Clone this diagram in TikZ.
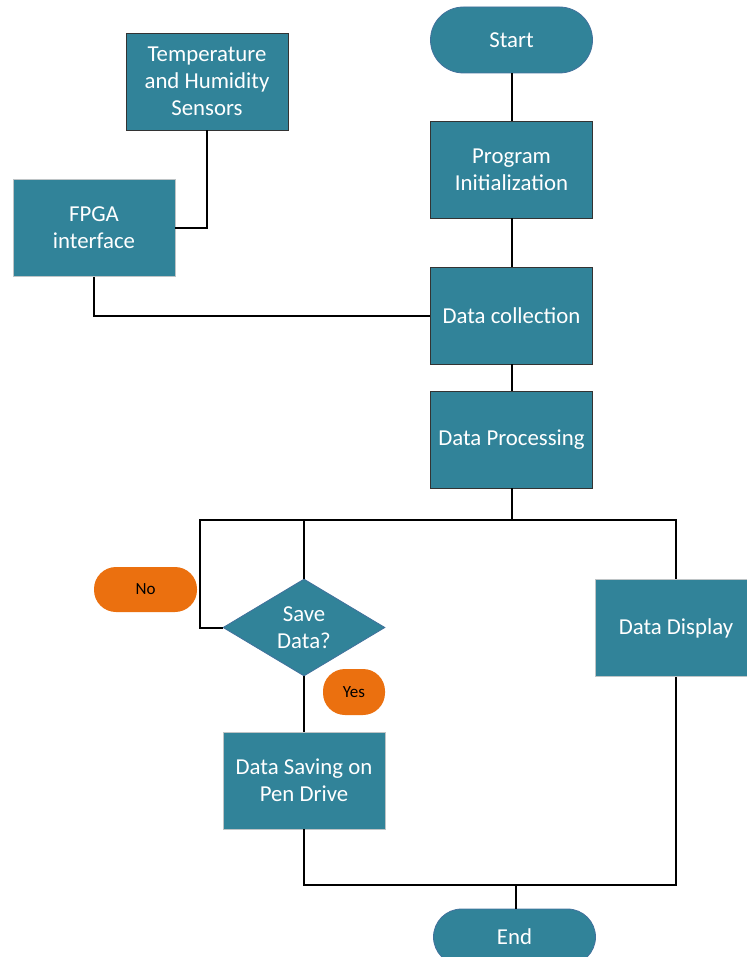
\documentclass[tikz,border=0pt]{standalone}
\usepackage{fontspec}
\setmainfont{Carlito}
\usepackage{tikz}
\usetikzlibrary{positioning,calc,shapes.geometric}
\definecolor{flowteal}{RGB}{49,131,153}
\definecolor{tealedge}{RGB}{65,113,156}
\definecolor{flowornge}{RGB}{235,112,15}
\definecolor{paleedge}{RGB}{190,196,198}
\tikzset{
  procbox/.style={draw=black!80, fill=flowteal, text=white, align=center,
                  minimum width=81pt, minimum height=48.5pt, inner sep=1pt,
                  font=\fontsize{11.4}{13.5}\selectfont},
  palebox/.style={procbox, draw=paleedge},
  termbox/.style={procbox, draw=tealedge, rounded corners=16.5pt, minimum height=33pt},
  askbox/.style={diamond, draw=tealedge, fill=flowteal, text=white, align=center,
                 minimum width=81pt, minimum height=48.5pt, inner sep=0pt, aspect=1.67,
                 font=\fontsize{11.4}{13.5}\selectfont},
  tagbox/.style={fill=flowornge, text=black, align=center, rounded corners=11pt,
                 font=\fontsize{8.5}{10}\selectfont},
  link/.style={draw=black, line width=1pt},
}

\begin{document}
\begin{tikzpicture}[x=0.5pt, y=-0.5pt]
  \useasboundingbox (0,0) rectangle (747,957);
%---------------- main column ----------------
  \node[termbox] (start) at (511.5,40) {Start};
  \node[procbox] (init) at (511.5,169.5) {Program\\ Initialization};
  \node[procbox] (coll) at (511.5,315.5) {Data collection};
  \node[procbox] (proc) at (511.5,439.5) {Data Processing};
%---------------- sensor side ----------------
  \node[procbox] (sens) at (207,81.5) {Temperature\\ and Humidity\\ Sensors};
  \node[palebox] (fpga) at (94,228) {FPGA\\ interface};
%---------------- branches ----------------
  \node[askbox] (save) at (304,627.5) {Save\\ Data?};
  \node[palebox] (pend) at (304,780.5) {Data Saving on\\ Pen Drive};
  \node[palebox] (disp) at (676,628) {Data Display};
  \node[tagbox, minimum width=51.5pt, minimum height=22.5pt] (tagno) at (145.5,589.5) {No};
  \node[tagbox, minimum width=31pt, minimum height=23pt] (tagyes) at (354,692) {Yes};
  \node[termbox, minimum height=28pt, rounded corners=14pt] (stop) at (514.5,937) {End};
%---------------- connectors ----------------
  \coordinate (split) at (511.5,520);
  \coordinate (loopc) at (200,520);
  \coordinate (merge) at (516,885);
  \draw[link] (start) -- (init);
  \draw[link] (init) -- (coll);
  \draw[link] (coll) -- (proc);
  \draw[link] (sens.south) |- (fpga.east);
  \draw[link] (fpga.south) |- (coll.west);
  \draw[link] (proc.south) -- (split);
  \draw[link] (split) -| (disp.north);
  \draw[link] (split) -| (save.north);
  \draw[link] (split) -- (loopc) |- (save.west);
  \draw[link] (save.south) -- (pend.north);
  \draw[link] (pend.south) |- (merge);
  \draw[link] (merge) -| (disp.south);
  \draw[link] (merge) -- (merge |- stop.north);
\end{tikzpicture}
\end{document}
